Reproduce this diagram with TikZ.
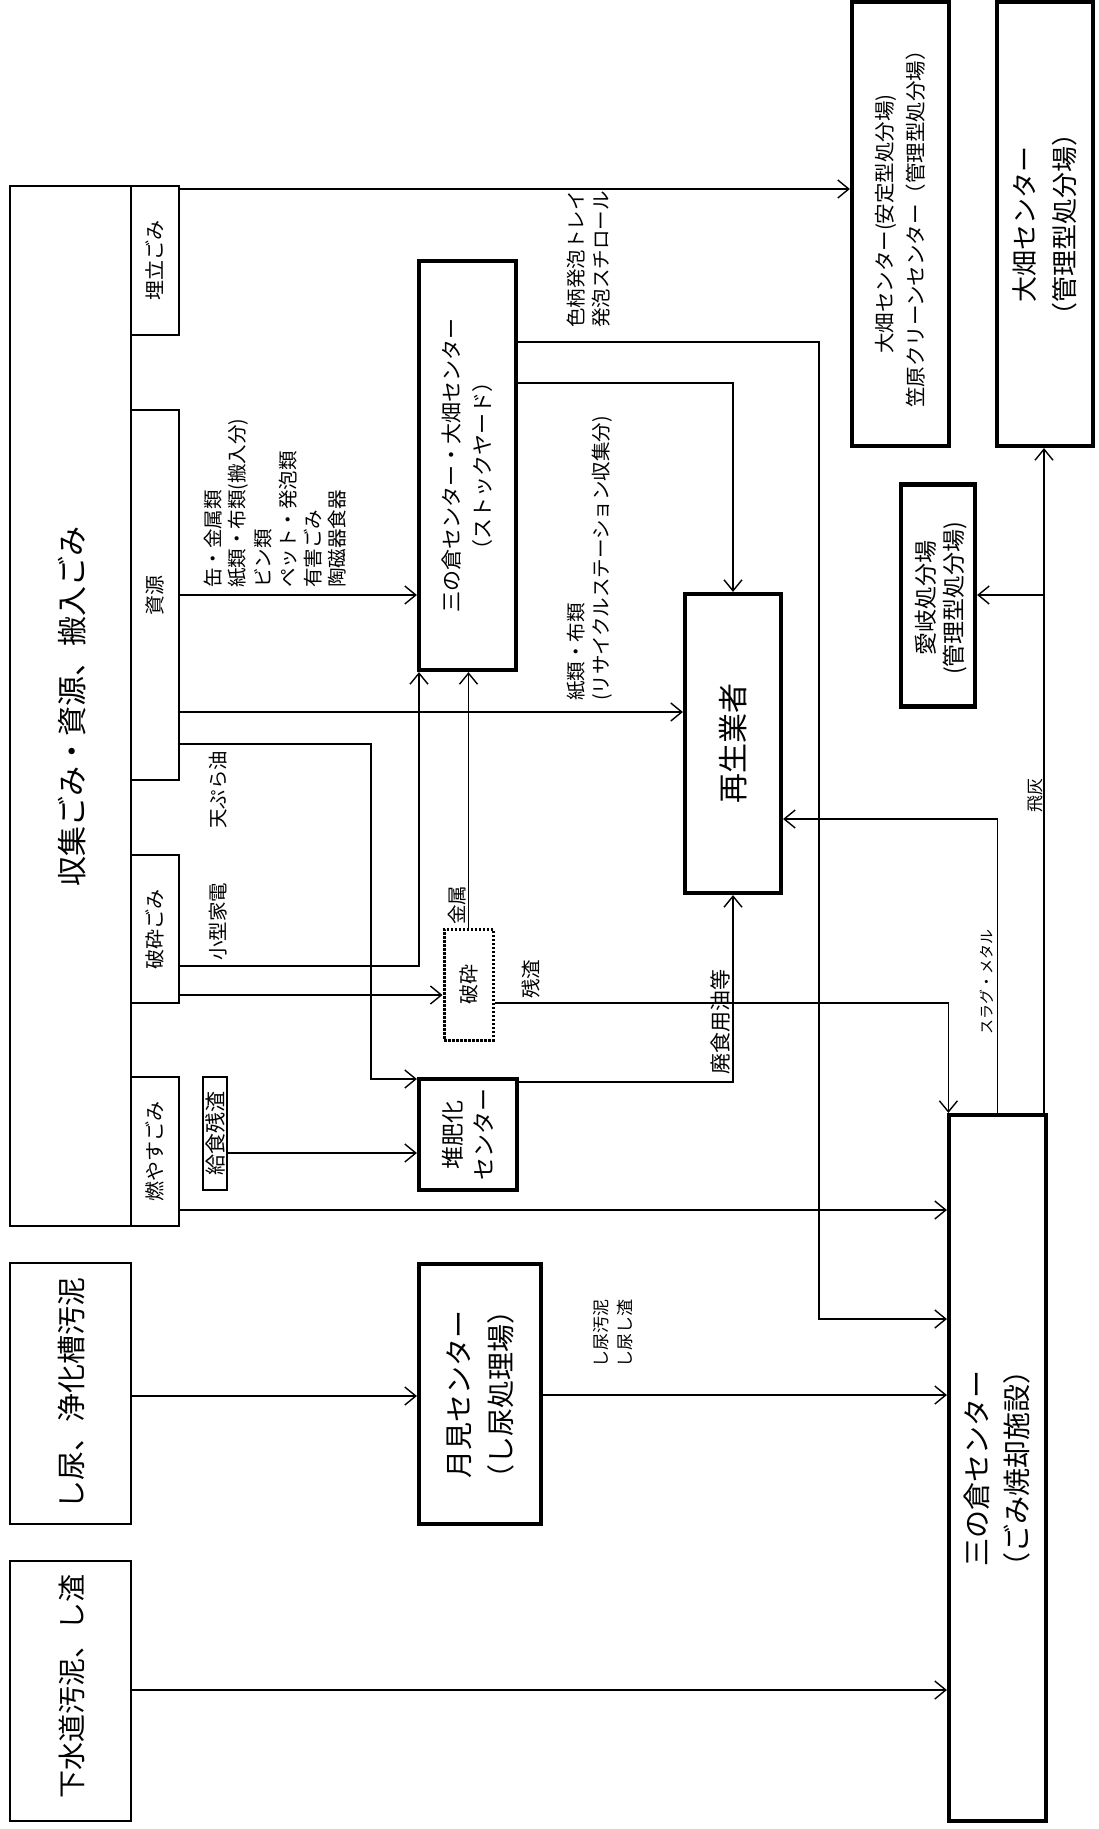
\documentclass[tikz,border=0pt]{standalone}
\usepackage{fontspec}
\setmainfont{Noto Sans CJK JP}
\usetikzlibrary{arrows.meta}
\tikzset{
  nbox/.style={draw, line width=2pt, inner sep=0pt},
  tbox/.style={draw, line width=4.2pt, inner sep=0pt},
  dbox/.style={draw, line width=3pt, dash pattern=on 2.5pt off 1.5pt, inner sep=0pt},
  txt/.style={rotate=90, inner sep=0pt, align=center},
  lbl/.style={rotate=90, inner sep=0pt, anchor=west, font=\fontsize{19.5}{19.5}\selectfont},
  conn/.style={line width=1.4pt},
  arr/.style={conn, -{Straight Barb[length=11pt,width=18pt]}},
}
\newcommand{\fs}[2]{\fontsize{#1}{#2}\selectfont}
\begin{document}
\begin{tikzpicture}[x=1pt,y=-1pt]
\useasboundingbox (0,0) rectangle (1098,1829);
% ---- boxes ----
\node[nbox, minimum width=121pt, minimum height=1040pt] (main) at (70.5,706) {};
\node[txt, font=\fs{30}{36}] (maint) at (72,706) {収集ごみ・資源、搬入ごみ};
\node[nbox, minimum width=48pt, minimum height=149pt] (umetate) at (155,260.5) {};
\node[txt, font=\fs{20}{24}] (umetatet) at (umetate.center) {埋立ごみ};
\node[nbox, minimum width=48pt, minimum height=370pt] (shigen) at (155,595) {};
\node[txt, font=\fs{20}{24}] (shigent) at (shigen.center) {資源};
\node[nbox, minimum width=48pt, minimum height=148pt] (hasai) at (155,929) {};
\node[txt, font=\fs{20}{24}] (hasait) at (hasai.center) {破砕ごみ};
\node[nbox, minimum width=48pt, minimum height=149pt] (moyasu) at (155,1151.5) {};
\node[txt, font=\fs{20}{24}] (moyasut) at (moyasu.center) {燃やすごみ};
\node[nbox, minimum width=121pt, minimum height=261pt] (shinyo) at (70.5,1393.5) {};
\node[txt, font=\fs{29}{34}] (shinyot) at (72,1393.5) {し尿、浄化槽汚泥};
\node[nbox, minimum width=121pt, minimum height=260pt] (gesui) at (70.5,1691) {};
\node[txt, font=\fs{28}{34}] (gesuit) at (72,1686) {下水道汚泥、し渣};
\node[tbox, minimum width=97pt, minimum height=409pt] (stock) at (467.5,465.5) {};
\node[txt, font=\fs{21}{31}] (stockt) at (stock.center) {三の倉センター・大畑センター\\（ストックヤード）};
\node[tbox, minimum width=96pt, minimum height=299pt] (saisei) at (733,743.5) {};
\node[txt, font=\fs{30}{36}] (saiseit) at (saisei.center) {再生業者};
\node[dbox, minimum width=49pt, minimum height=111pt] (hasaiproc) at (468.5,984.5) {};
\node[txt, font=\fs{20}{24}] (hasaiproct) at (hasaiproc.center) {破砕};
\node[tbox, minimum width=98pt, minimum height=111pt] (taihi) at (468,1134.5) {};
\node[txt, font=\fs{23}{31}] (taihit) at (taihi.center) {堆肥化\\センター};
\node[nbox, minimum width=24pt, minimum height=113pt] (kyushoku) at (215,1133.5) {};
\node[txt, font=\fs{21}{24}] (kyushokut) at (kyushoku.center) {給食残渣};
\node[tbox, minimum width=122pt, minimum height=260pt] (tsukimi) at (480,1394) {};
\node[txt, font=\fs{28}{42}] (tsukimit) at (tsukimi.center) {月見センター\\（し尿処理場）};
\node[tbox, minimum width=97pt, minimum height=706pt] (sannokura) at (997.5,1468) {};
\node[txt, font=\fs{28}{40}] (sannokurat) at (sannokura.center) {三の倉センター\\（ごみ焼却施設）};
\node[tbox, minimum width=97pt, minimum height=444pt] (ohata1) at (900.5,224) {};
\node[txt, font=\fs{20.5}{31}] (ohata1t) at (ohata1.center) {大畑センター(安定型処分場)\\笠原クリーンセンター（管理型処分場）};
\node[tbox, minimum width=96pt, minimum height=444pt] (ohata2) at (1045,224) {};
\node[txt, font=\fs{26}{40}] (ohata2t) at (ohata2.center) {大畑センター\\（管理型処分場）};
\node[tbox, minimum width=74pt, minimum height=222pt] (aigi) at (938,595.5) {};
\node[txt, font=\fs{23}{28}] (aigit) at (941,598) {愛岐処分場\\(管理型処分場)};
% ---- connectors ----
\draw[arr] (umetate.east |- 0,189) -- (ohata1.west |- 0,189);
\draw[arr] (shigen.east |- 0,595) -- (stock.west |- 0,595);
\draw[arr] (shigen.east |- 0,712) -- (saisei.west |- 0,712);
\draw[arr] (shigen.east |- 0,744) -- (371,744) -- (371,1079) -- (taihi.west |- 0,1079);
\draw[arr] (hasai.east |- 0,966) -| ([xshift=2.1pt]stock.south west);
\draw[arr] (hasai.east |- 0,995) -- (hasaiproc.west |- 0,995);
\draw[arr] (hasaiproc.north) -- (stock.south -| hasaiproc.north);
\draw[arr] (hasaiproc.east |- 0,1003) -| ([xshift=1.5pt]sannokura.north west);
\draw[arr] (kyushoku.east |- 0,1153) -- (taihi.west |- 0,1153);
\draw[arr] (taihi.east |- 0,1082) -| (saisei.south);
\draw[arr] (moyasu.east |- 0,1210) -- (sannokura.west |- 0,1210);
\draw[arr] (stock.east |- 0,383) -| (saisei.north);
\draw[arr] (stock.east |- 0,342) -- (819,342) -- (819,1319) -- (sannokura.west |- 0,1319);
\draw[arr] (shinyo.east |- 0,1396) -- (tsukimi.west |- 0,1396);
\draw[arr] (tsukimi.east |- 0,1395) -- (sannokura.west |- 0,1395);
\draw[arr] (gesui.east |- 0,1690) -- (sannokura.west |- 0,1690);
\draw[arr] (sannokura.north) -- (sannokura.north |- 0,819) -- (saisei.east |- 0,819);
\draw[arr] (sannokura.north -| 1044,0) -- (ohata2.south -| 1044,0);
\coordinate (hibranch) at (1044,595);
\draw[arr] (hibranch) -- (aigi.east |- hibranch);
% ---- labels ----
\node[lbl] (la1) at (213,588) {缶・金属類};
\node[lbl] (la2) at (238,588) {紙類・布類(搬入分)};
\node[lbl] (la3) at (263,588) {ビン類};
\node[lbl] (la4) at (288,588) {ペット・発泡類};
\node[lbl] (la5) at (313,588) {有害ごみ};
\node[lbl] (la6) at (337,588) {陶磁器食器};
\node[lbl] (lb1) at (576,328) {色柄発泡トレイ};
\node[lbl] (lb2) at (601,328) {発泡スチロール};
\node[lbl] (lc1) at (576,701) {紙類・布類};
\node[lbl] (lc2) at (602,701) {(リサイクルステーション収集分)};
\node[lbl] (ld) at (218,829) {天ぷら油};
\node[lbl] (le) at (218,961) {小型家電};
\node[lbl] (lf) at (457,925) {金属};
\node[lbl] (lg) at (531,999) {残渣};
\node[lbl, font=\fs{21}{21}] (lh) at (721,1075) {廃食用油等};
\node[lbl, font=\fs{15}{15}] (li) at (987,1035) {スラグ・メタル};
\node[lbl, font=\fs{17}{17}] (lj) at (1035,813) {飛灰};
\node[lbl, font=\fs{17}{17}] (lk1) at (601,1368) {し尿汚泥};
\node[lbl, font=\fs{17}{17}] (lk2) at (625,1368) {し尿し渣};
\end{tikzpicture}
\end{document}
